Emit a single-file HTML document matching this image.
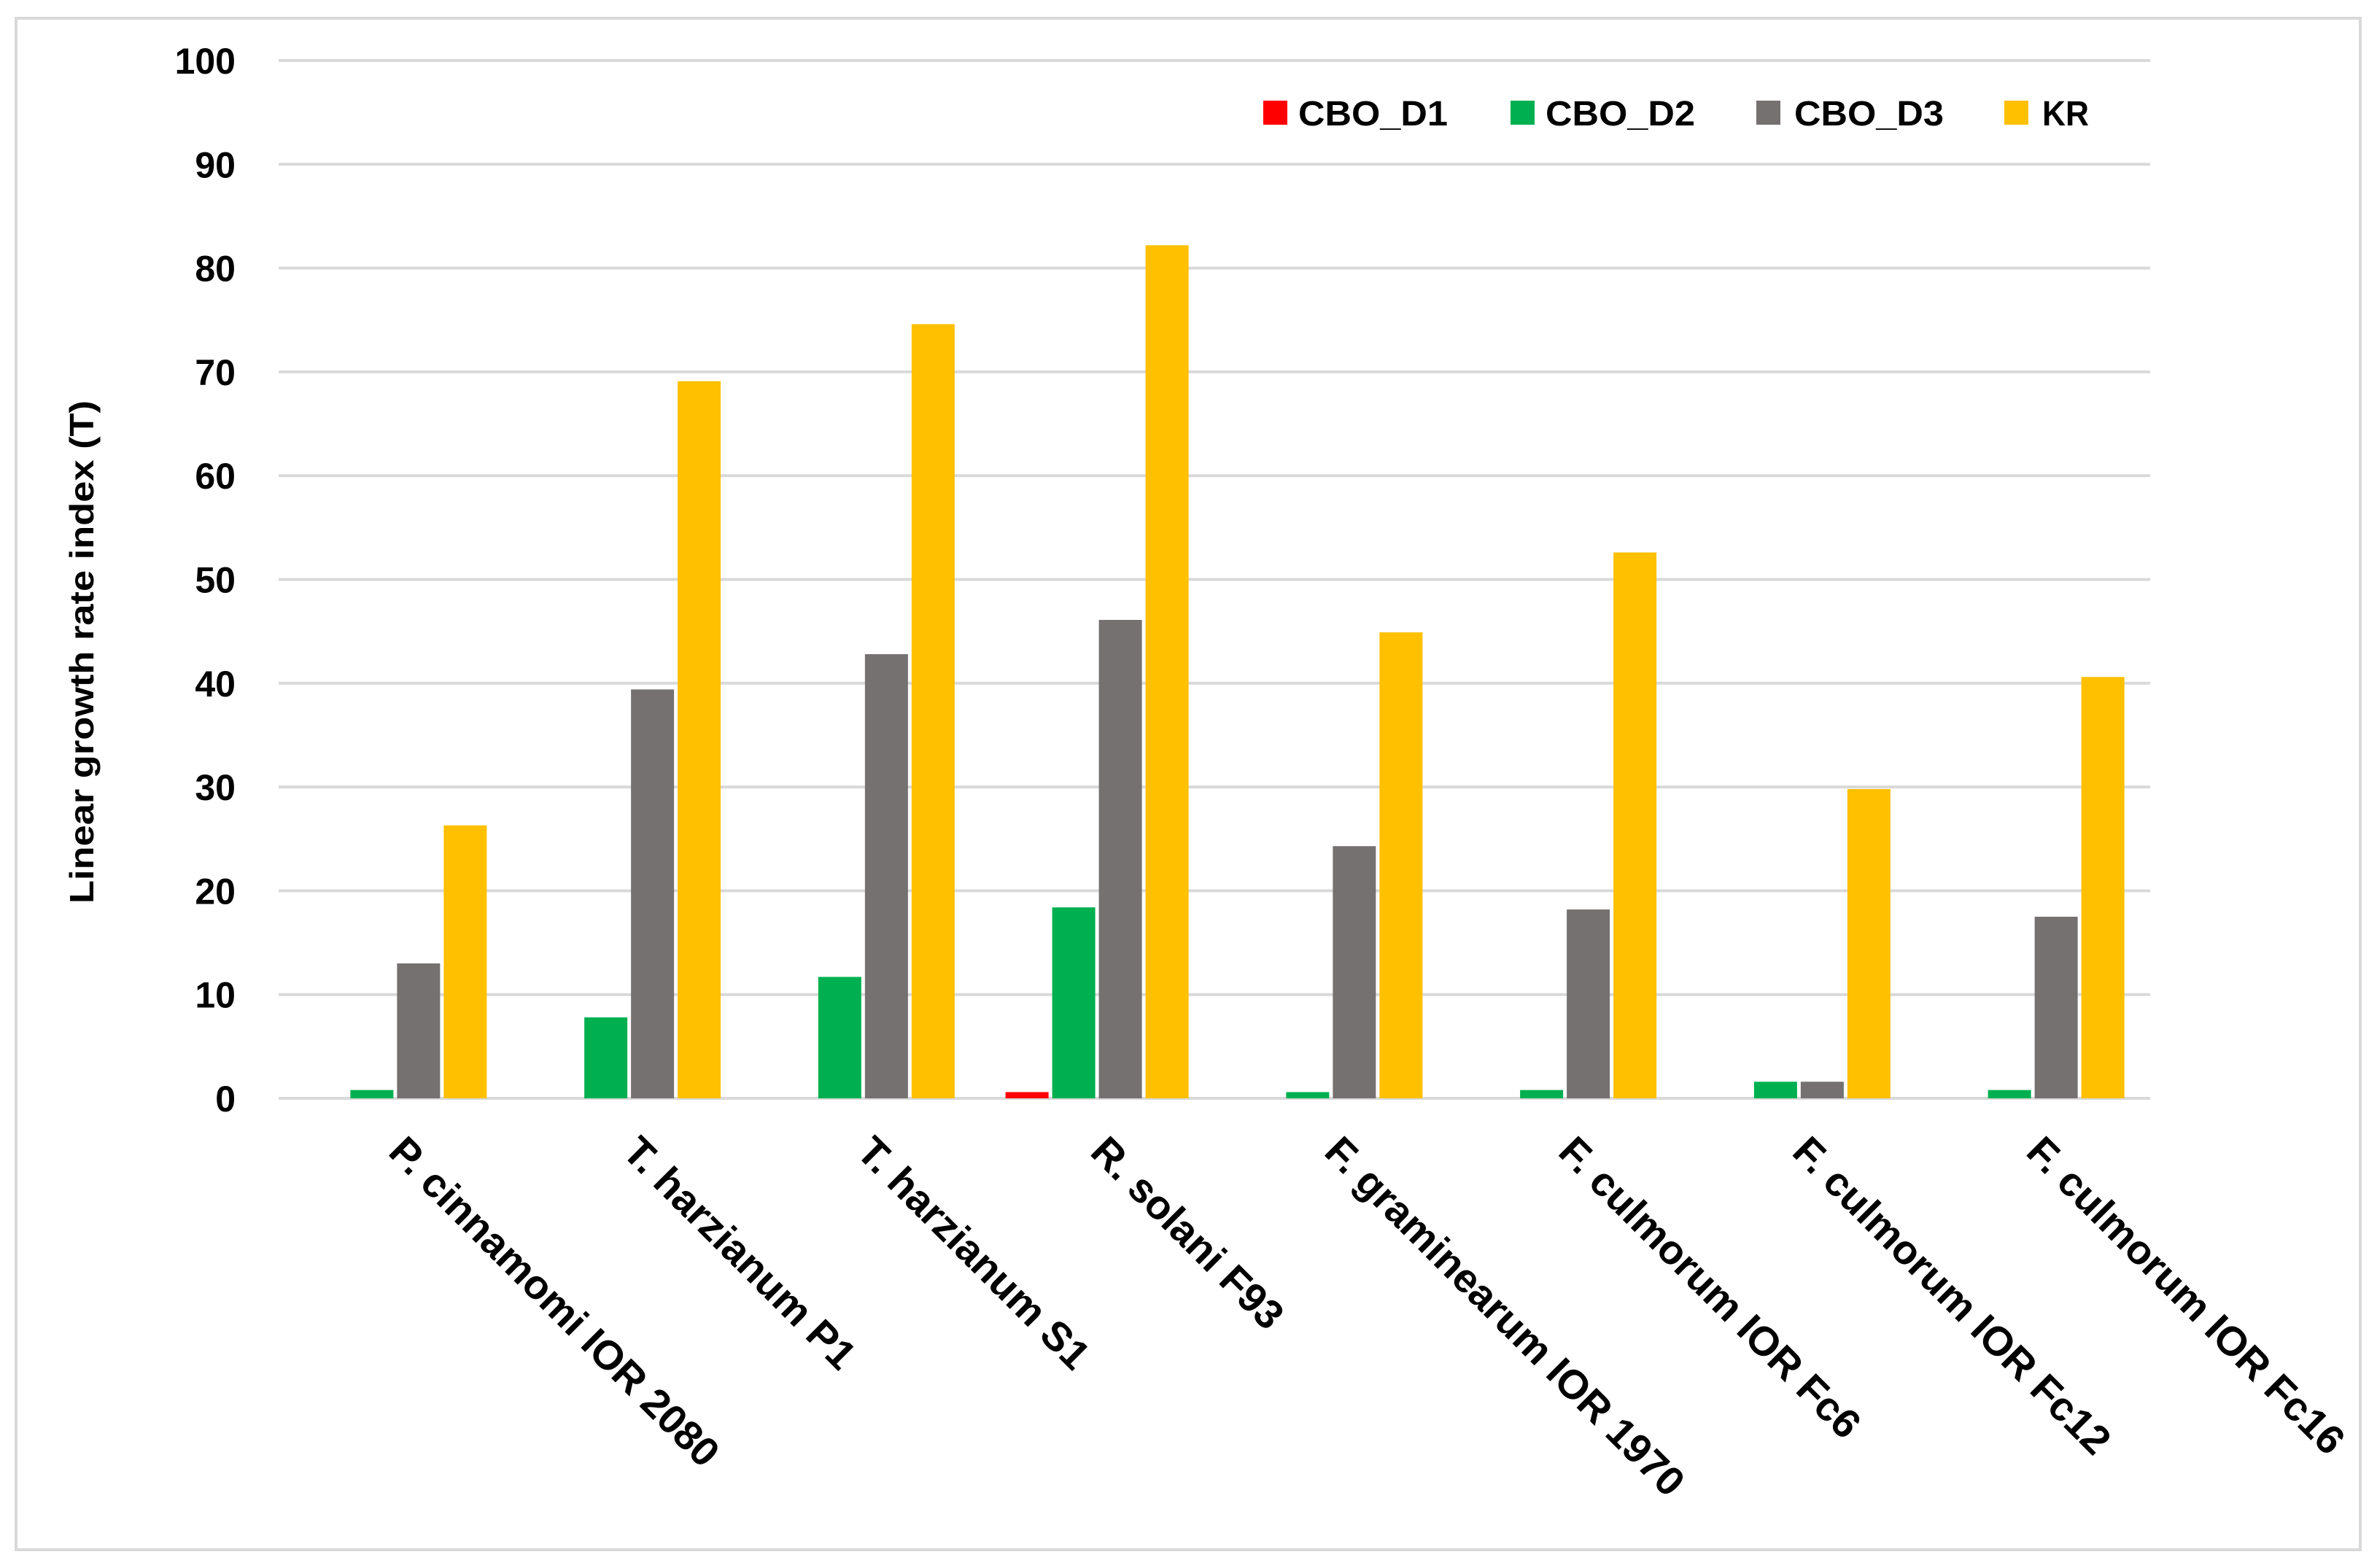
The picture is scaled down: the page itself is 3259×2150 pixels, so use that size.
<!DOCTYPE html>
<html><head><meta charset="utf-8"><style>
html,body{margin:0;padding:0;background:#fff;}
svg{display:block;font-family:"Liberation Sans",sans-serif;font-weight:bold;}
</style></head><body>
<svg id="chart" width="3259" height="2150" viewBox="0 0 3259 2150" xmlns="http://www.w3.org/2000/svg">
<rect x="22" y="25" width="3214" height="2100" fill="#fff" stroke="#d9d9d9" stroke-width="4"/>
<g id="grid"></g><g id="bars"></g><g id="ylabels"></g><g id="xlabels"></g>
<text transform="translate(128,894) rotate(-90)" text-anchor="middle" font-size="46" textLength="690" lengthAdjust="spacingAndGlyphs">Linear growth rate index (T)</text>
<g font-size="48">
<rect x="1732" y="138" width="33" height="33" fill="#ff0000"/>
<text x="1780" y="172" textLength="205" lengthAdjust="spacingAndGlyphs">CBO_D1</text>
<rect x="2071" y="138" width="33" height="33" fill="#00b050"/>
<text x="2119" y="172" textLength="205" lengthAdjust="spacingAndGlyphs">CBO_D2</text>
<rect x="2408" y="138" width="33" height="33" fill="#767171"/>
<text x="2460" y="172" textLength="205" lengthAdjust="spacingAndGlyphs">CBO_D3</text>
<rect x="2748" y="138" width="33" height="33" fill="#ffc000"/>
<text x="2800" y="172" textLength="64" lengthAdjust="spacingAndGlyphs">KR</text>
</g>
</svg>
<script>
const categories = ["P. cinnamomi IOR 2080","T. harzianum P1","T. harzianum S1","R. solani F93","F. graminearum IOR 1970","F. culmorum IOR Fc6","F. culmorum IOR Fc12","F. culmorum IOR Fc16"];
const cboD1 = [0, 0, 0, 0.6, 0, 0, 0, 0];
const cboD2 = [0.8, 7.8, 11.7, 18.4, 0.6, 0.8, 1.6, 0.8];
const cboD3 = [13.0, 39.4, 42.8, 46.1, 24.3, 18.2, 1.6, 17.5];
const kr = [26.3, 69.1, 74.6, 82.2, 44.9, 52.6, 29.8, 40.6];
const yTicks = [0,10,20,30,40,50,60,70,80,90,100];

const NS="http://www.w3.org/2000/svg";
const L=382,R=2948,Y0=1506,Y100=83;
const y=v=>Y0-(v/100)*(Y0-Y100);
const band=(R-L)/categories.length;
const xc=i=>L+band*(i+0.5);
function mk(t,p,a){const e=document.createElementNS(NS,t);for(const k in a)e.setAttribute(k,a[k]);p.appendChild(e);return e;}
const grid=document.getElementById('grid'),yl=document.getElementById('ylabels');
yTicks.forEach(t=>{
  const ln=mk('line',grid,{x1:L,x2:R,y1:y(t),y2:y(t),stroke:'#d9d9d9','stroke-width':4});
  
  
  const tx=mk('text',yl,{x:323,y:y(t)+18,'text-anchor':'end','font-size':50});
  tx.textContent=t;
  
  
});
const series=[[cboD1,'#ff0000','cbo-d1'],[cboD2,'#00b050','cbo-d2'],[cboD3,'#767171','cbo-d3'],[kr,'#ffc000','kr']];
const bars=document.getElementById('bars');
const slot=64,bw=59;
categories.forEach((c,i)=>{
  series.forEach((s,j)=>{
    const v=s[0][i]; if(!v)return;
    const x=xc(i)-2*slot+j*slot+2;
    const r=mk('rect',bars,{x:x,y:y(v),width:bw,height:Y0-y(v),fill:s[1]});
    
    
  });
  const t=mk('text',document.getElementById('xlabels'),{transform:`translate(${xc(i)-12},1582) rotate(45)`,'font-size':56});
  t.textContent=c;
  
  
});
</script>
</body></html>
